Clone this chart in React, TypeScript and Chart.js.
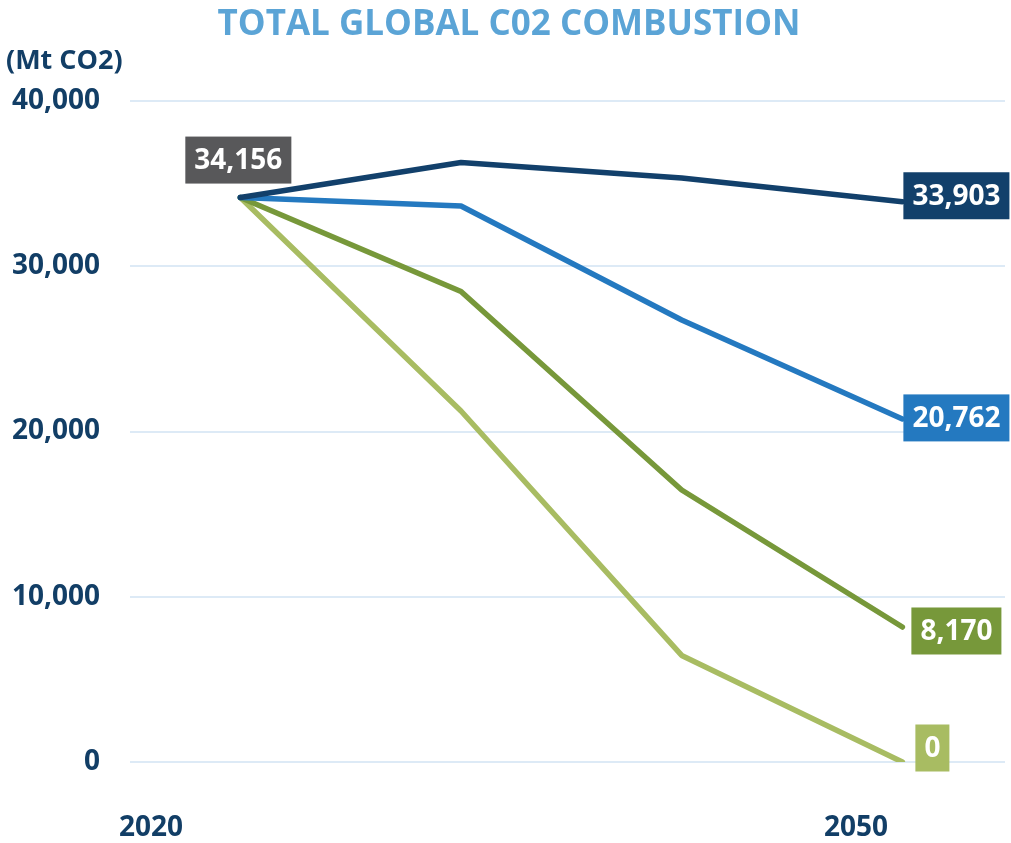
import React, { useEffect, useRef } from "react";
import { Chart, registerables } from "chart.js";

Chart.register(...registerables);

const years = [2020, 2030, 2040, 2050];
const seriesNames = ["Scenario A", "Scenario B", "Scenario C", "Scenario D"];
const navyValues = [34156, 36280, 35340, 33903];
const blueValues = [34156, 33650, 26750, 20762];
const darkGreenValues = [34156, 28470, 16460, 8170];
const lightGreenValues = [34156, 21240, 6450, 0];
const seriesColors = ["#12406B", "#2479C0", "#77983A", "#A8BC62"];
const yTicks = [0, 10000, 20000, 30000, 40000];
const xAxisLabels = ["2020", "2050"];
const titleText = "TOTAL GLOBAL C02 COMBUSTION";
const unitText = "(Mt CO2)";
const startLabelColor = "#58585A";

const FONT = "'Open Sans', 'DejaVu Sans', sans-serif";
const TEXT_COLOR = "#123E66";

const fmt = (v: number) => v.toLocaleString("en-US");

const decorPlugin = {
  id: "decor",
  afterDatasetsDraw(chart: any) {
    const ctx = chart.ctx;
    const xs = chart.scales.x;
    const ys = chart.scales.y;
    const area = chart.chartArea;
    ctx.save();

    // title
    ctx.fillStyle = "#5BA4D6";
    ctx.font = `bold 35px ${FONT}`;
    ctx.textAlign = "center";
    ctx.textBaseline = "middle";
    ctx.fillText(titleText, 509, 25);

    // unit label
    ctx.fillStyle = TEXT_COLOR;
    ctx.font = `bold 27px ${FONT}`;
    ctx.textAlign = "left";
    ctx.fillText(unitText, 6, 61);

    // x labels
    ctx.font = `bold 28px ${FONT}`;
    ctx.textAlign = "center";
    ctx.fillText(xAxisLabels[0], area.left + 21, 828);
    ctx.fillText(xAxisLabels[1], area.left + 726, 828);

    // data labels
    ctx.font = `bold 28px ${FONT}`;
    ctx.textBaseline = "middle";
    const padX = 9;
    const boxH = 47;

    // start label
    const sx = xs.getPixelForValue(years[0]);
    const sy = ys.getPixelForValue(navyValues[0]);
    const st = fmt(navyValues[0]);
    const sw = ctx.measureText(st).width + padX * 2;
    ctx.fillStyle = startLabelColor;
    ctx.fillRect(sx - 2 - sw / 2, sy - 14 - boxH, sw, boxH);
    ctx.fillStyle = "#FFFFFF";
    ctx.textAlign = "center";
    ctx.fillText(st, sx - 2, sy - 14 - boxH / 2 + 1);

    // end labels
    const endOffsets = [
      { dx: 1, dy: -6 },
      { dx: 1, dy: -1 },
      { dx: 9, dy: 4 },
      { dx: 13, dy: -14 },
    ];
    chart.data.datasets.forEach((ds: any, i: number) => {
      const last = ds.data.length - 1;
      const v = Number(ds.data[last].y);
      const px = xs.getPixelForValue(years[last]);
      const py = ys.getPixelForValue(v);
      const t = fmt(v);
      const w = ctx.measureText(t).width + padX * 2;
      const left = px + endOffsets[i].dx;
      const cy = py + endOffsets[i].dy;
      ctx.fillStyle = seriesColors[i];
      ctx.fillRect(left, cy - boxH / 2, w, boxH);
      ctx.fillStyle = "#FFFFFF";
      ctx.textAlign = "center";
      ctx.fillText(t, left + w / 2, cy + 1);
    });

    ctx.restore();
  },
};

export default function App() {
  const ref = useRef<HTMLCanvasElement | null>(null);

  useEffect(() => {
    if (!ref.current) return;
    document.documentElement.style.overflow = "hidden";
    document.body.style.margin = "0";
    document.body.style.overflow = "hidden";
    const allValues = [navyValues, blueValues, darkGreenValues, lightGreenValues];
    const chart = new Chart(ref.current, {
      type: "line",
      data: {
        datasets: allValues.map((vals, i) => ({
          label: seriesNames[i],
          data: vals.map((v, j) => ({ x: years[j], y: v })) as any,
          borderColor: seriesColors[i],
          backgroundColor: seriesColors[i],
          borderWidth: 5.5,
          pointRadius: 0,
          borderCapStyle: "round",
          borderJoinStyle: "round",
          tension: 0,
        })),
      } as any,
      options: {
        animation: false,
        responsive: false,
        layout: { padding: { top: 101, bottom: 81, left: 0, right: 6 } },
        plugins: {
          legend: { display: false },
          title: { display: false },
          tooltip: { enabled: false },
        },
        scales: {
          x: {
            type: "linear",
            min: 2015,
            max: 2054.65,
            display: false,
          },
          y: {
            min: 0,
            max: 40000,
            afterBuildTicks: (scale: any) => {
              scale.ticks = yTicks.map((v) => ({ value: v }));
            },
            afterFit: (scale: any) => {
              scale.width = 130;
            },
            border: { display: false },
            grid: {
              color: "#DDEAF6",
              lineWidth: 2,
              drawTicks: false,
            },
            ticks: {
              padding: 30,
              color: TEXT_COLOR,
              font: { family: FONT, size: 28, weight: "bold" },
              callback: (v: any) => fmt(Number(v)),
            },
          },
        },
      } as any,
      plugins: [decorPlugin],
    });
    return () => chart.destroy();
  }, []);

  return (
    <div style={{ position: "fixed", left: 0, top: 0, width: 1011, height: 843, background: "#FFFFFF", overflow: "hidden" }}>
      <canvas ref={ref} width={1011} height={843} style={{ display: "block", width: 1011, height: 843 }} />
    </div>
  );
}
